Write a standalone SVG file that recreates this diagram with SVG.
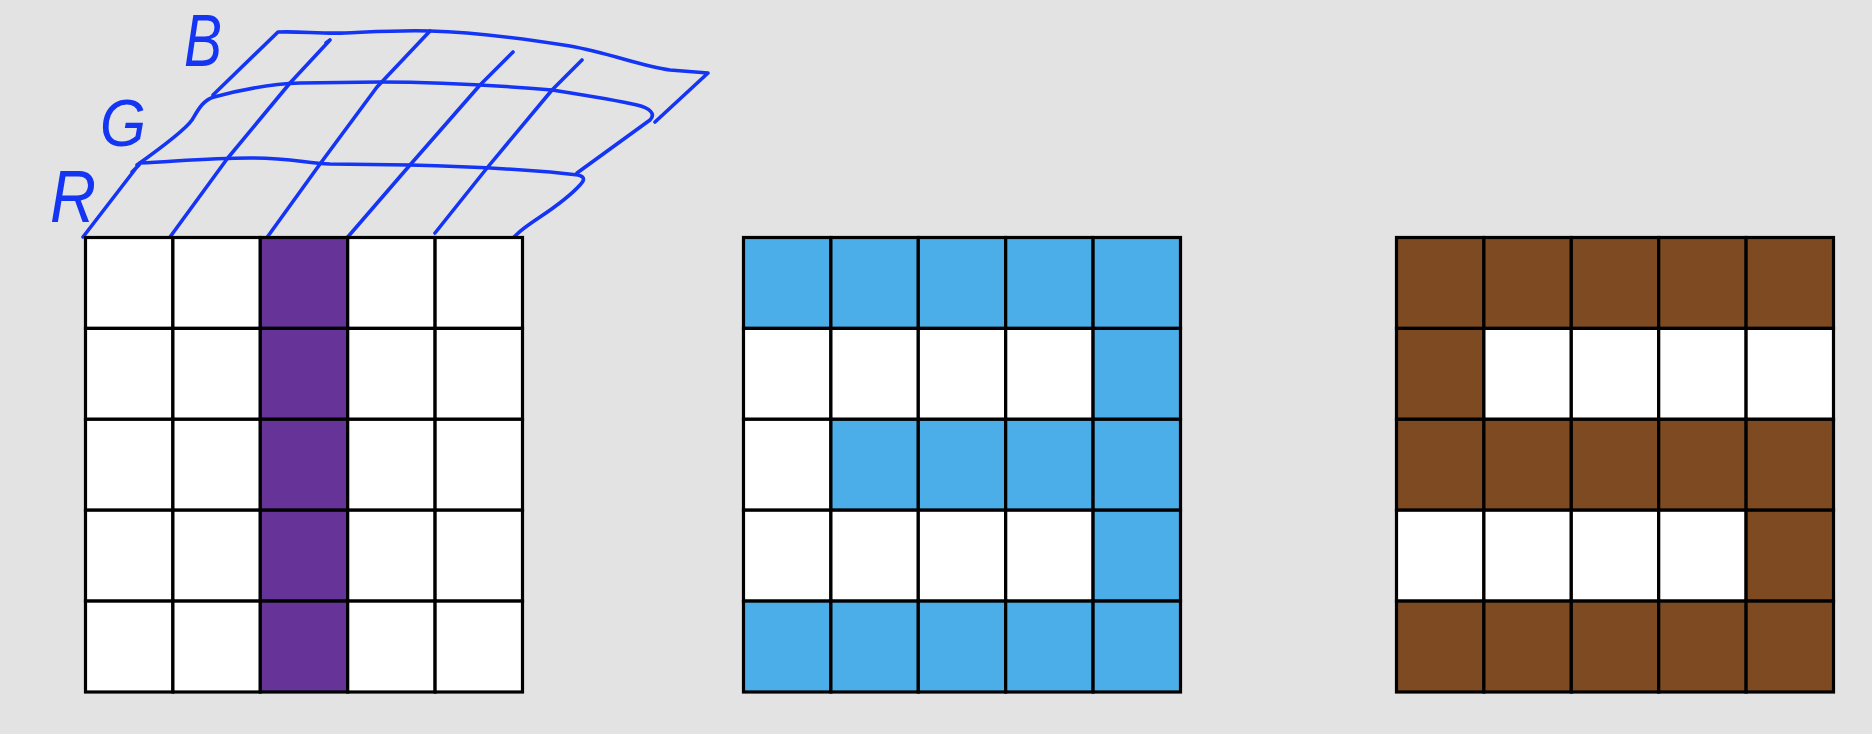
<svg xmlns="http://www.w3.org/2000/svg" width="1872" height="734" viewBox="0 0 1872 734">
<style>
.bg{fill:#e3e3e3}
.c{stroke:#000;stroke-width:3.2}
.w{fill:#fff}
.p{fill:#663399}
.b{fill:#4baee8}
.r{fill:#7e4a22}
.sk{fill:none;stroke:#1535f5;stroke-width:3.6;stroke-linecap:round;stroke-linejoin:round}
.lbl{fill:#1535f5;font-family:"Liberation Sans",Arial,sans-serif;font-style:italic}
</style>
<rect class="bg" x="0" y="0" width="1872" height="734"/>

<g id="sketch">
  <path class="sk" d="M213,95 L278,32 C300,31 320,34 345,33 C370,32 400,30 430,31 C470,32 520,38 570,46 C610,53 640,66 670,70 L708,73 L655,122"/>
  <path class="sk" d="M137,165 C165,145 185,130 192,120 C198,110 203,100 214,97 C240,90 270,84 300,83 L380,82 C430,82 480,84 552,90 C590,96 620,101 637,105 C650,108 656,114 650,120 L577,173"/>
  <path class="sk" d="M83,237 L140,163 M132,172 L139,165 M140,163 C180,161 210,158 250,158 C290,158 305,163 330,164 L410,165 C450,166 500,168 550,172 L578,175 C586,177 584,181 580,185 C570,196 555,207 540,217 C525,227 512,236 507,247"/>
  <path class="sk" d="M170,237 L227,159 L290,83 L330,40 M326,43 L330,40"/>
  <path class="sk" d="M258,250 L320,164 L377,87 L430,31"/>
  <path class="sk" d="M336,249 L340,246 L410,165 L480,85 L513,52"/>
  <path class="sk" d="M435,233 L487,168 L552,90 L582,60"/>
  <text class="lbl" x="184" y="66" font-size="74" textLength="38" lengthAdjust="spacingAndGlyphs">B</text>
  <text class="lbl" x="100" y="146" font-size="66" textLength="46" lengthAdjust="spacingAndGlyphs">G</text>
  <text class="lbl" x="50" y="222" font-size="74" textLength="46" lengthAdjust="spacingAndGlyphs">R</text>
</g>

<g id="grid-purple" transform="translate(85.5,237.5)">
  <rect class="c w" x="0" y="0" width="87.4" height="90.9"/><rect class="c w" x="87.4" y="0" width="87.4" height="90.9"/><rect class="c p" x="174.8" y="0" width="87.4" height="90.9"/><rect class="c w" x="262.2" y="0" width="87.4" height="90.9"/><rect class="c w" x="349.6" y="0" width="87.4" height="90.9"/>
  <rect class="c w" x="0" y="90.9" width="87.4" height="90.9"/><rect class="c w" x="87.4" y="90.9" width="87.4" height="90.9"/><rect class="c p" x="174.8" y="90.9" width="87.4" height="90.9"/><rect class="c w" x="262.2" y="90.9" width="87.4" height="90.9"/><rect class="c w" x="349.6" y="90.9" width="87.4" height="90.9"/>
  <rect class="c w" x="0" y="181.8" width="87.4" height="90.9"/><rect class="c w" x="87.4" y="181.8" width="87.4" height="90.9"/><rect class="c p" x="174.8" y="181.8" width="87.4" height="90.9"/><rect class="c w" x="262.2" y="181.8" width="87.4" height="90.9"/><rect class="c w" x="349.6" y="181.8" width="87.4" height="90.9"/>
  <rect class="c w" x="0" y="272.7" width="87.4" height="90.9"/><rect class="c w" x="87.4" y="272.7" width="87.4" height="90.9"/><rect class="c p" x="174.8" y="272.7" width="87.4" height="90.9"/><rect class="c w" x="262.2" y="272.7" width="87.4" height="90.9"/><rect class="c w" x="349.6" y="272.7" width="87.4" height="90.9"/>
  <rect class="c w" x="0" y="363.6" width="87.4" height="90.9"/><rect class="c w" x="87.4" y="363.6" width="87.4" height="90.9"/><rect class="c p" x="174.8" y="363.6" width="87.4" height="90.9"/><rect class="c w" x="262.2" y="363.6" width="87.4" height="90.9"/><rect class="c w" x="349.6" y="363.6" width="87.4" height="90.9"/>
</g>

<g id="grid-blue" transform="translate(743.5,237.5)">
  <rect class="c b" x="0" y="0" width="87.4" height="90.9"/><rect class="c b" x="87.4" y="0" width="87.4" height="90.9"/><rect class="c b" x="174.8" y="0" width="87.4" height="90.9"/><rect class="c b" x="262.2" y="0" width="87.4" height="90.9"/><rect class="c b" x="349.6" y="0" width="87.4" height="90.9"/>
  <rect class="c w" x="0" y="90.9" width="87.4" height="90.9"/><rect class="c w" x="87.4" y="90.9" width="87.4" height="90.9"/><rect class="c w" x="174.8" y="90.9" width="87.4" height="90.9"/><rect class="c w" x="262.2" y="90.9" width="87.4" height="90.9"/><rect class="c b" x="349.6" y="90.9" width="87.4" height="90.9"/>
  <rect class="c w" x="0" y="181.8" width="87.4" height="90.9"/><rect class="c b" x="87.4" y="181.8" width="87.4" height="90.9"/><rect class="c b" x="174.8" y="181.8" width="87.4" height="90.9"/><rect class="c b" x="262.2" y="181.8" width="87.4" height="90.9"/><rect class="c b" x="349.6" y="181.8" width="87.4" height="90.9"/>
  <rect class="c w" x="0" y="272.7" width="87.4" height="90.9"/><rect class="c w" x="87.4" y="272.7" width="87.4" height="90.9"/><rect class="c w" x="174.8" y="272.7" width="87.4" height="90.9"/><rect class="c w" x="262.2" y="272.7" width="87.4" height="90.9"/><rect class="c b" x="349.6" y="272.7" width="87.4" height="90.9"/>
  <rect class="c b" x="0" y="363.6" width="87.4" height="90.9"/><rect class="c b" x="87.4" y="363.6" width="87.4" height="90.9"/><rect class="c b" x="174.8" y="363.6" width="87.4" height="90.9"/><rect class="c b" x="262.2" y="363.6" width="87.4" height="90.9"/><rect class="c b" x="349.6" y="363.6" width="87.4" height="90.9"/>
</g>

<g id="grid-brown" transform="translate(1396.5,237.5)">
  <rect class="c r" x="0" y="0" width="87.4" height="90.9"/><rect class="c r" x="87.4" y="0" width="87.4" height="90.9"/><rect class="c r" x="174.8" y="0" width="87.4" height="90.9"/><rect class="c r" x="262.2" y="0" width="87.4" height="90.9"/><rect class="c r" x="349.6" y="0" width="87.4" height="90.9"/>
  <rect class="c r" x="0" y="90.9" width="87.4" height="90.9"/><rect class="c w" x="87.4" y="90.9" width="87.4" height="90.9"/><rect class="c w" x="174.8" y="90.9" width="87.4" height="90.9"/><rect class="c w" x="262.2" y="90.9" width="87.4" height="90.9"/><rect class="c w" x="349.6" y="90.9" width="87.4" height="90.9"/>
  <rect class="c r" x="0" y="181.8" width="87.4" height="90.9"/><rect class="c r" x="87.4" y="181.8" width="87.4" height="90.9"/><rect class="c r" x="174.8" y="181.8" width="87.4" height="90.9"/><rect class="c r" x="262.2" y="181.8" width="87.4" height="90.9"/><rect class="c r" x="349.6" y="181.8" width="87.4" height="90.9"/>
  <rect class="c w" x="0" y="272.7" width="87.4" height="90.9"/><rect class="c w" x="87.4" y="272.7" width="87.4" height="90.9"/><rect class="c w" x="174.8" y="272.7" width="87.4" height="90.9"/><rect class="c w" x="262.2" y="272.7" width="87.4" height="90.9"/><rect class="c r" x="349.6" y="272.7" width="87.4" height="90.9"/>
  <rect class="c r" x="0" y="363.6" width="87.4" height="90.9"/><rect class="c r" x="87.4" y="363.6" width="87.4" height="90.9"/><rect class="c r" x="174.8" y="363.6" width="87.4" height="90.9"/><rect class="c r" x="262.2" y="363.6" width="87.4" height="90.9"/><rect class="c r" x="349.6" y="363.6" width="87.4" height="90.9"/>
</g>
</svg>
